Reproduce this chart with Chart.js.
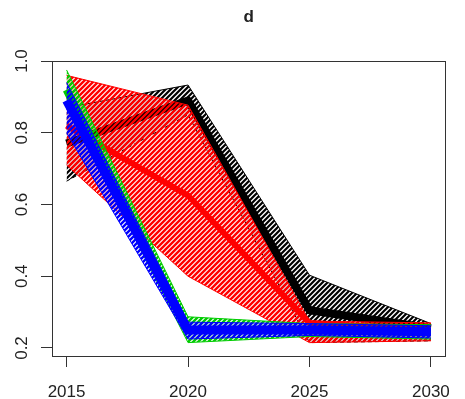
<!DOCTYPE html>
<html>
<head>
<meta charset="utf-8">
<script src="https://cdn.jsdelivr.net/npm/chart.js@4"></script>
<style>
  body { margin: 0; background: #fff; }
  canvas { display: block; }
</style>
</head>
<body>
<canvas id="myChart" width="465" height="399"></canvas>
<script>
// data
const years = [2015, 2020, 2025, 2030];
const xTicks = [2015, 2020, 2025, 2030];
const yTicks = [0.2, 0.4, 0.6, 0.8, 1.0];

const blackMid = [0.77, 0.89, 0.305, 0.255];
const blackUpper = [0.87, 0.933, 0.403, 0.268];
const blackLower = [0.665, 0.85, 0.215, 0.22];

const redMid = [0.82, 0.625, 0.27, 0.25];
const redUpper = [0.96, 0.877, 0.275, 0.27];
const redLower = [0.71, 0.4, 0.215, 0.22];

const greenMid = [0.92, 0.25, 0.25, 0.245];
const greenUpper = [0.975, 0.287, 0.268, 0.265];
const greenLower = [0.88, 0.215, 0.232, 0.225];

const blueMid = [0.89, 0.25, 0.25, 0.245];
const blueUpper = [0.94, 0.272, 0.268, 0.262];
const blueLower = [0.8, 0.225, 0.235, 0.228];

const fontFamily = "'Liberation Sans', Arial, sans-serif";

function toPoints(arr) {
  return years.map((x, i) => ({ x: x, y: arr[i] }));
}

// R style density shading, lines at 45 degrees, no fill behind
function hatch(color, w) {
  const p = 5;
  const c = document.createElement('canvas');
  c.width = p;
  c.height = p;
  const g = c.getContext('2d');
  g.strokeStyle = color;
  g.lineWidth = w;
  g.beginPath();
  g.moveTo(0, p);
  g.lineTo(p, 0);
  g.moveTo(-1, 1);
  g.lineTo(1, -1);
  g.moveTo(p - 1, p + 1);
  g.lineTo(p + 1, p - 1);
  g.stroke();
  return g.createPattern(c, 'repeat');
}

const groups = [
  { color: '#000000', mid: blackMid, upper: blackUpper, lower: blackLower, width: 8, dash: [4, 3], hw: 2.2 },
  { color: '#ff0000', mid: redMid, upper: redUpper, lower: redLower, width: 6, dash: [], hw: 2.4 },
  { color: '#00cc00', mid: greenMid, upper: greenUpper, lower: greenLower, width: 8, dash: [], hw: 2.4 },
  { color: '#0000ff', mid: blueMid, upper: blueUpper, lower: blueLower, width: 9, dash: [], hw: 2.4 },
];

const datasets = [];
groups.forEach(grp => {
  datasets.push({
    data: toPoints(grp.lower),
    borderColor: grp.color,
    borderWidth: 1,
    borderDash: grp.dash,
    fill: false,
  });
  datasets.push({
    data: toPoints(grp.upper),
    borderColor: grp.color,
    borderWidth: 1,
    backgroundColor: hatch(grp.color, grp.hw),
    fill: '-1',
  });
  datasets.push({
    data: toPoints(grp.mid),
    borderColor: grp.color,
    borderWidth: grp.width,
    borderCapStyle: 'butt',
    borderJoinStyle: 'round',
    fill: false,
  });
});
// first pushed is drawn first (lowest layer)
datasets.forEach((ds, i) => {
  ds.order = 100 - i;
  ds.pointRadius = 0;
  ds.tension = 0;
});

// box, rotated y labels and title like base R
const rFrame = {
  id: 'rFrame',
  afterDraw(chart) {
    const ctx = chart.ctx;
    const area = chart.chartArea;
    const yScale = chart.scales.y;
    ctx.save();
    ctx.strokeStyle = '#333';
    ctx.lineWidth = 1;
    ctx.strokeRect(Math.round(area.left) + 0.5, Math.round(area.top) + 0.5,
      Math.round(area.right - area.left), Math.round(area.bottom - area.top));

    ctx.fillStyle = '#222';
    ctx.font = '17px ' + fontFamily;
    ctx.textAlign = 'center';
    ctx.textBaseline = 'middle';
    yTicks.forEach(v => {
      const y = yScale.getPixelForValue(v);
      ctx.save();
      ctx.translate(22, y);
      ctx.rotate(-Math.PI / 2);
      ctx.fillText(v.toFixed(1), 0, 0);
      ctx.restore();
    });

    ctx.font = 'bold 17px ' + fontFamily;
    ctx.fillText('d', (area.left + area.right) / 2, 17);
    ctx.restore();
  },
};

new Chart(document.getElementById('myChart'), {
  type: 'line',
  data: { datasets: datasets },
  options: {
    responsive: false,
    devicePixelRatio: 1,
    animation: false,
    layout: { padding: { top: 61, right: 5, left: 0, bottom: 0 } },
    plugins: {
      legend: { display: false },
      title: { display: false },
      tooltip: { enabled: false },
      filler: { drawTime: 'beforeDatasetDraw' },
    },
    scales: {
      x: {
        type: 'linear',
        min: 2014.4,
        max: 2030.6,
        afterBuildTicks: s => { s.ticks = xTicks.map(v => ({ value: v })); },
        afterFit: s => { s.height = 43; },
        grid: { drawOnChartArea: false, drawTicks: true, tickLength: 11, color: '#333' },
        border: { display: true, color: '#333' },
        ticks: {
          color: '#222',
          padding: 15,
          maxRotation: 0,
          font: { family: fontFamily, size: 17 },
          callback: v => String(v),
        },
      },
      y: {
        min: 0.1777,
        max: 1.0,
        afterBuildTicks: s => { s.ticks = yTicks.map(v => ({ value: v })); },
        afterFit: s => { s.width = 52; },
        grid: { drawOnChartArea: false, drawTicks: true, tickLength: 11, color: '#333' },
        border: { display: true, color: '#333' },
        ticks: { display: false },
      },
    },
  },
  plugins: [rFrame],
});
</script>
</body>
</html>
